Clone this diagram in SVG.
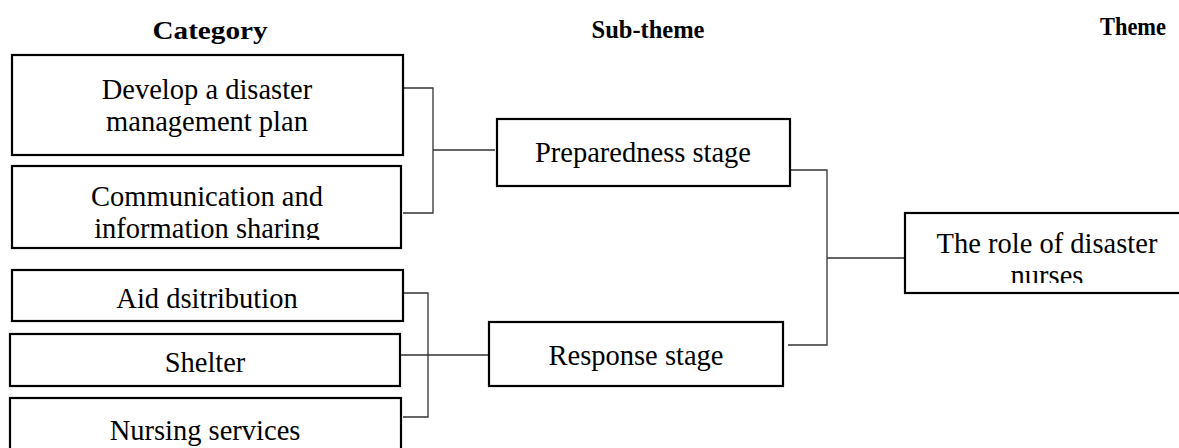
<svg xmlns="http://www.w3.org/2000/svg" width="1179" height="448" viewBox="0 0 1179 448">
<style>
.box{fill:#fff;stroke:#000;stroke-width:2.2}
.t{font-family:"Liberation Serif","Times New Roman",serif;font-size:28.5px;fill:#000;text-anchor:middle}
.h{font-family:"Liberation Serif","Times New Roman",serif;font-size:26px;font-weight:bold;fill:#000;text-anchor:middle}
.c{fill:none;stroke:#333;stroke-width:1.3}
</style>
<defs>
<clipPath id="clipComm"><rect x="0" y="160" width="420" height="80"/></clipPath>
<clipPath id="clipTheme"><rect x="900" y="205" width="279" height="78"/></clipPath>
</defs>
<rect width="1179" height="448" fill="#fff"/>
<g id="headers">
<text class="h" x="210" y="39" textLength="115" lengthAdjust="spacingAndGlyphs">Category</text>
<text class="h" x="648" y="38" textLength="113" lengthAdjust="spacingAndGlyphs">Sub-theme</text>
<text class="h" x="1133" y="35" textLength="66" lengthAdjust="spacingAndGlyphs">Theme</text>
</g>
<g id="connectors">
<path class="c" d="M403,88 H433 V213 H403 M433,150 H495"/>
<path class="c" d="M400,293 H428 V417 H403 M400,355 H489"/>
<path class="c" d="M790,170 H827 V345 H788 M827,258 H905"/>
</g>
<g id="node-plan">
<rect class="box" x="12" y="55" width="391" height="100"/>
<text class="t" x="207" y="99">Develop a disaster</text>
<text class="t" x="207" y="131">management plan</text>
</g>
<g id="node-comm">
<rect class="box" x="12" y="166" width="389" height="82"/>
<g clip-path="url(#clipComm)">
<text class="t" x="207" y="206">Communication and</text>
<text class="t" x="207" y="238">information sharing</text>
</g>
</g>
<g id="node-aid">
<rect class="box" x="12" y="270" width="391" height="51"/>
<text class="t" x="207" y="308">Aid dsitribution</text>
</g>
<g id="node-shelter">
<rect class="box" x="10" y="334" width="390" height="52"/>
<text class="t" x="205" y="372">Shelter</text>
</g>
<g id="node-nursing">
<rect class="box" x="10" y="398" width="391" height="60"/>
<text class="t" x="205" y="440">Nursing services</text>
</g>
<g id="node-preparedness">
<rect class="box" x="497" y="119" width="293" height="67"/>
<text class="t" x="643" y="162">Preparedness stage</text>
</g>
<g id="node-response">
<rect class="box" x="489" y="322" width="294" height="64"/>
<text class="t" x="636" y="365">Response stage</text>
</g>
<g id="node-theme">
<rect class="box" x="905" y="213" width="284" height="80"/>
<g clip-path="url(#clipTheme)">
<text class="t" x="1047" y="253">The role of disaster</text>
<text class="t" x="1047" y="285">nurses</text>
</g>
</g>
</svg>
